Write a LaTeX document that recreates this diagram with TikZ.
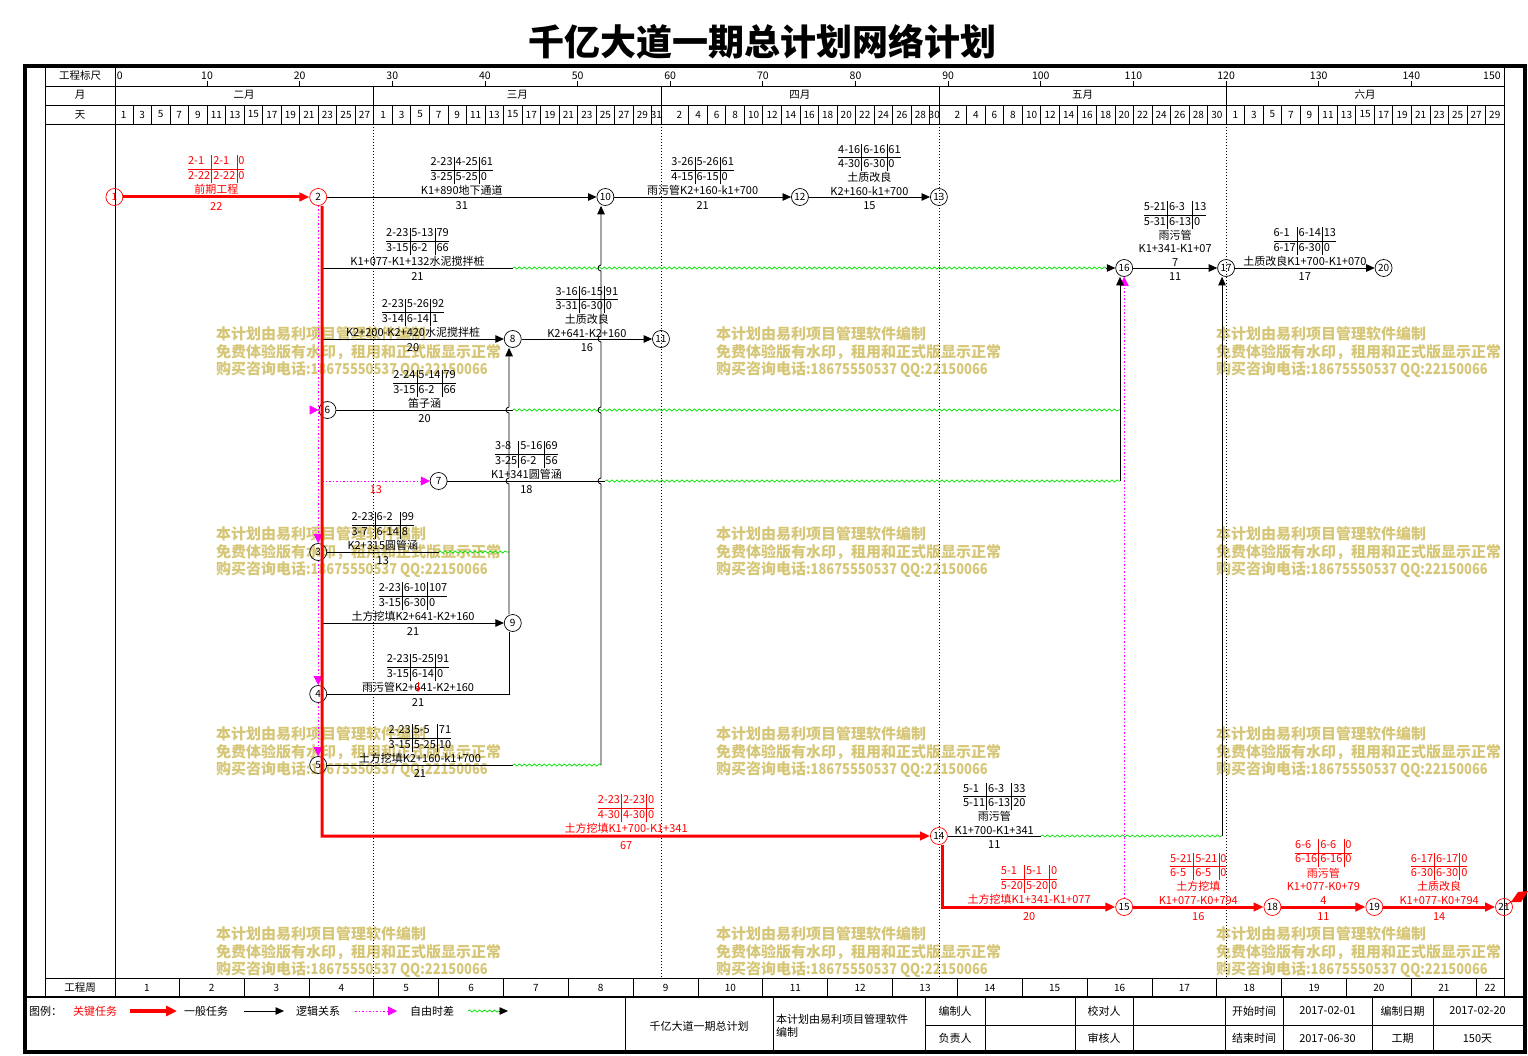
\documentclass[tikz,border=0pt]{standalone}
\usepackage{fontspec}
\setmainfont{Noto Sans CJK SC}
\newfontfamily\wmnum[FakeStretch=0.86]{Noto Sans CJK SC}
\usetikzlibrary{arrows.meta,decorations.pathmorphing}
\definecolor{critred}{RGB}{255,0,0}
\definecolor{logicmag}{RGB}{255,0,255}
\definecolor{slackgreen}{RGB}{0,225,0}
\definecolor{wmark}{RGB}{214,198,120}
\setlength\arrayrulewidth{0.7pt}
% time table above a work arrow
\newcommand\wtab[6]{{\setlength\tabcolsep{1.5pt}\begin{tabular}{@{}l|l|l@{}}#1&#2&#3\\\hline #4&#5&#6\end{tabular}}}

\begin{document}
\begin{tikzpicture}[x=1pt,y=-1pt,
  ev/.style={circle,draw,line width=0.7pt,minimum size=17pt,inner sep=0pt,font=\fontsize{10}{10}\selectfont},
  evc/.style={ev,draw=critred},
  work/.style={line width=0.8pt,-{Triangle[length=8.5pt,width=7.5pt]}},
  link/.style={line width=0.8pt},
  crit/.style={critred,line width=3pt,-{Triangle[length=10pt,width=8.5pt]}},
  logic/.style={logicmag,line width=0.8pt,dash pattern=on 1.5pt off 2pt,-{Triangle[length=9pt,width=9pt]}},
  slack/.style={slackgreen,line width=0.7pt,decorate,decoration={snake,amplitude=1.1pt,segment length=5pt}},
  lbl/.style={font=\fontsize{11}{13.5}\selectfont,align=center,inner sep=1.2pt},
  hdr/.style={font=\fontsize{10.5}{12}\selectfont,inner sep=0pt},
  dnum/.style={font=\fontsize{10}{12}\selectfont,inner sep=0pt},
  grid/.style={dash pattern=on 1pt off 2pt,line width=0.6pt},
  wm/.style={wmark,font=\fontsize{15}{18}\selectfont\bfseries,anchor=west,inner sep=0pt},
  ftr/.style={font=\fontsize{11}{13}\selectfont,inner sep=0pt},
]
\useasboundingbox (0,0) rectangle (1528,1056);

\node[font=\fontsize{36}{40}\selectfont\bfseries] (title) at (762,42) {千亿大道一期总计划网络计划};

% watermark
\foreach \wx in {216,716,1216}
  \foreach \wy in {334,534,734,934} {
    \node[wm] (wma\wx\wy) at (\wx,\wy) {本计划由易利项目管理软件编制};
    \node[wm] (wmb\wx\wy) at (\wx,\wy+18) {免费体验版有水印，租用和正式版显示正常};
    \node[wm] (wmc\wx\wy) at (\wx,\wy+36) {购买咨询电话{\wmnum :18675550537 QQ:22150066}};
  }

% frame and header rows
\draw[line width=4pt] (24.5,66) rectangle (1524.5,1052);
\draw[line width=0.8pt] (45,66) -- (45,997);
\draw[line width=0.8pt] (115,66) -- (115,997);
\draw[line width=0.8pt] (1504,66) -- (1504,997);
\foreach \ry in {86,105,124,978}
  \draw[line width=0.8pt] (45,\ry) -- (1504,\ry);
\draw[line width=2.5pt] (24.5,997) -- (1524.5,997);
\node[hdr] (hruler) at (80,76) {工程标尺};
\node[hdr] (hmonth) at (80,95) {月};
\node[hdr] (hday) at (80,114.5) {天};
\node[hdr] (hweek) at (80,987.5) {工程周};

\begin{scope}[shift={(114.4,0)},x=9.264pt]
  % ruler
  \node[hdr,anchor=west] (rl0) at (0.25,76) {0};
  \foreach \tk in {10,20,...,140} {
    \draw[line width=0.8pt] (\tk,81) -- (\tk,86);
    \node[hdr] (rl\tk) at (\tk,76) {\tk};
  }
  \node[hdr] (rl150) at (148.7,76) {150};
  % months
  \foreach \mo in {28,59,89,120} {
    \draw[line width=0.8pt] (\mo,86) -- (\mo,124);
    \draw[grid] (\mo,124) -- (\mo,978);
  }
  \node[hdr] (mFeb) at (14,95) {二月};
  \node[hdr] (mMar) at (43.5,95) {三月};
  \node[hdr] (mApr) at (74,95) {四月};
  \node[hdr] (mMay) at (104.5,95) {五月};
  \node[hdr] (mJun) at (135,95) {六月};
  % days
  \foreach \c in {2,4,...,148} {
    \ifnum\c=60 \else\ifnum\c=90 \else \draw[line width=0.8pt] (\c,105) -- (\c,124);\fi\fi
  }
  \foreach \dy in {1,3,...,27} \node[dnum] (dF\dy) at (\dy,114.5) {\dy};
  \foreach \dy in {1,3,...,29} \node[dnum] (dM\dy) at (28+\dy,114.5) {\dy};
  \node[dnum] (dM31) at (58.5,114.5) {31};
  \foreach \dy in {2,4,...,28} \node[dnum] (dA\dy) at (59+\dy,114.5) {\dy};
  \node[dnum] (dA30) at (88.5,114.5) {30};
  \foreach \dy in {2,4,...,30} \node[dnum] (dY\dy) at (89+\dy,114.5) {\dy};
  \foreach \dy in {1,3,...,29} \node[dnum] (dJ\dy) at (120+\dy,114.5) {\dy};
  % weeks
  \foreach \w in {1,...,21} {
    \draw[line width=0.8pt] (7*\w,978) -- (7*\w,997);
    \node[dnum] (wk\w) at (7*\w-3.5,987.5) {\w};
  }
  \node[dnum] (wk22) at (148.5,987.5) {22};

  % events
  \node[evc,text=critred] (ev1) at (0,197) {1};
  \node[evc] (ev2) at (22,197) {2};
  \node[ev] (ev10) at (53,197) {10};
  \node[ev] (ev12) at (74,197) {12};
  \node[ev] (ev13) at (89,197) {13};
  \node[ev] (ev16) at (109,268) {16};
  \node[ev] (ev17) at (120,268) {17};
  \node[ev] (ev20) at (137,268) {20};
  \node[ev] (ev8) at (43,339) {8};
  \node[ev] (ev11) at (59,339) {11};
  \node[ev] (ev6) at (23,410) {6};
  \node[ev] (ev7) at (35,481) {7};
  \node[ev] (ev3) at (22,552) {3};
  \node[ev] (ev9) at (43,623) {9};
  \node[ev] (ev4) at (22,694) {4};
  \node[ev] (ev5) at (22,765) {5};
  \node[evc] (ev14) at (89,836) {14};
  \node[evc] (ev15) at (109,907) {15};
  \node[evc] (ev18) at (125,907) {18};
  \node[evc] (ev19) at (136,907) {19};
  \node[evc] (ev21) at (150,907) {21};

  \coordinate (r268) at (22.43,268);
  \coordinate (r339) at (22.43,339);
  \coordinate (r481) at (22.43,481);
  \coordinate (r623) at (22.43,623);
  \coordinate (r836) at (22.43,836);
  \coordinate (m410) at (21.1,410);
  \coordinate (w268) at (43,268);
  \coordinate (w410) at (43,410);
  \coordinate (w481) at (53,481);
  \coordinate (w552) at (35,552);
  \coordinate (w694) at (42.6,694);
  \coordinate (w765) at (43,765);
  \coordinate (w836) at (100,836);
  \coordinate (k552) at (42.6,552);
  \coordinate (k765) at (52.53,765);
  \coordinate (g410) at (108.55,410);
  \coordinate (g481) at (108.55,481);
  \coordinate (h836) at (119.56,836);

  % logic links
  \draw[logic] (ev2) -- (ev3);
  \draw[logic] (ev3) -- (ev4);
  \draw[logic] (ev4) -- (ev5);
  \draw[logic] (m410) -- (ev6);
  \draw[logic] (r481) -- node[lbl,below=3pt,text=critred] {13} (ev7);
  \draw[logic] (ev15) -- (ev16);

  % works
  \draw[work] (ev2) -- node[lbl,above] {\wtab{2-23}{4-25}{61}{3-25}{5-25}{0}\\K1+890地下通道} node[lbl,below=3pt] {31} (ev10);
  \draw[work] (ev10) -- node[lbl,above] {\wtab{3-26}{5-26}{61}{4-15}{6-15}{0}\\雨污管K2+160-k1+700} node[lbl,below=3pt] {21} (ev12);
  \draw[work] (ev12) -- node[lbl,above] {\wtab{4-16}{6-16}{61}{4-30}{6-30}{0}\\土质改良\\K2+160-k1+700} node[lbl,below=3pt] {15} (ev13);

  \draw[link] (r268) -- node[lbl,above] {\wtab{2-23}{5-13}{79}{3-15}{6-2}{66}\\K1+077-K1+132水泥搅拌桩} node[lbl,below=3pt] {21} (w268);
  \draw[slack] (w268) -- ([xshift=-9pt]ev16.west);
  \draw[work] ([xshift=-9pt]ev16.west) -- (ev16);

  \draw[work] (r339) -- node[lbl,above] {\wtab{2-23}{5-26}{92}{3-14}{6-14}{1}\\K2+200-K2+420水泥搅拌桩} node[lbl,below=3pt] {20} (ev8);
  \draw[work] (ev8) -- node[lbl,above] {\wtab{3-16}{6-15}{91}{3-31}{6-30}{0}\\土质改良\\K2+641-K2+160} node[lbl,below=3pt] {16} (ev11);

  \draw[link] (ev6) -- node[lbl,above] {\wtab{2-24}{5-14}{79}{3-15}{6-2}{66}\\笛子涵} node[lbl,below=3pt] {20} (w410);
  \draw[slack] (w410) -- (g410);

  \draw[link] (ev7) -- node[lbl,above] {\wtab{3-8}{5-16}{69}{3-25}{6-2}{56}\\K1+341圆管涵} node[lbl,below=3pt] {18} (w481);
  \draw[slack] (w481) -- (g481);
  \draw[work] (g481) -- (ev16.south -| g481);

  \draw[link] (ev3) -- node[lbl,above] {\wtab{2-23}{6-2}{99}{3-7}{6-14}{8}\\K2+315圆管涵} node[lbl,below=3pt] {13} (w552);
  \draw[slack] (w552) -- (k552);

  \draw[work] (r623) -- node[lbl,above] {\wtab{2-23}{6-10}{107}{3-15}{6-30}{0}\\土方挖填K2+641-K2+160} node[lbl,below=3pt] {21} (ev9);

  \draw[link] (ev4) -- node[lbl,above] {\wtab{2-23}{5-25}{91}{3-15}{6-14}{0}\\雨污管K2+641-K2+160} node[lbl,below=3pt] {21} (w694) -- (ev9.south -| w694);
  \draw[work] (ev9.north -| w694) -- (42.6,484) arc[start angle=270,end angle=90,radius=3pt]
    -- (42.6,413) arc[start angle=270,end angle=90,radius=3pt] -- (ev8.south -| w694);

  \draw[link] (ev5) -- node[lbl,above] {\wtab{2-23}{5-5}{71}{3-15}{5-25}{10}\\土方挖填K2+160-k1+700} node[lbl,below=3pt] {21} (w765);
  \draw[slack] (w765) -- (k765);
  \draw[work] (k765) -- (52.53,484) arc[start angle=270,end angle=90,radius=3pt]
    -- (52.53,413) arc[start angle=270,end angle=90,radius=3pt]
    -- (52.53,342) arc[start angle=270,end angle=90,radius=3pt]
    -- (52.53,271) arc[start angle=270,end angle=90,radius=3pt] -- (ev10.south -| k765);

  \draw[link] (ev14) -- node[lbl,above] {\wtab{5-1}{6-3}{33}{5-11}{6-13}{20}\\雨污管\\K1+700-K1+341} node[lbl,below=3pt] {11} (w836);
  \draw[slack] (w836) -- (h836);
  \draw[work] (h836) -- (ev17.south -| h836);

  \draw[work] (ev16) -- node[lbl,above] {\wtab{5-21}{6-3}{13}{5-31}{6-13}{0}\\雨污管\\K1+341-K1+07\\7} node[lbl,below=3pt] {11} (ev17);
  \draw[work] (ev17) -- node[lbl,above] {\wtab{6-1}{6-14}{13}{6-17}{6-30}{0}\\土质改良K1+700-K1+070} node[lbl,below=3pt] {17} (ev20);

  % critical path
  \draw[crit] (ev1) -- node[lbl,above,text=critred] {\wtab{2-1}{2-1}{0}{2-22}{2-22}{0}\\前期工程} node[lbl,below=3pt,text=critred] {22} (ev2);
  \draw[crit] ([xshift=4pt]ev2.south) -- (r836) -- node[lbl,above,text=critred] {\wtab{2-23}{2-23}{0}{4-30}{4-30}{0}\\土方挖填K1+700-K1+341} node[lbl,below=3pt,text=critred] {67} (ev14);
  \draw[crit] ([xshift=4pt]ev14.south) |- node[pos=0.75,lbl,above,text=critred] {\wtab{5-1}{5-1}{0}{5-20}{5-20}{0}\\土方挖填K1+341-K1+077} node[pos=0.75,lbl,below=3pt,text=critred] {20} (ev15);
  \draw[crit] (ev15) -- node[lbl,above,text=critred] {\wtab{5-21}{5-21}{0}{6-5}{6-5}{0}\\土方挖填\\K1+077-K0+794} node[lbl,below=3pt,text=critred] {16} (ev18);
  \draw[crit] (ev18) -- node[lbl,above,text=critred] {\wtab{6-6}{6-6}{0}{6-16}{6-16}{0}\\雨污管\\K1+077-K0+79\\4} node[lbl,below=3pt,text=critred] {11} (ev19);
  \draw[crit] (ev19) -- node[lbl,above,text=critred] {\wtab{6-17}{6-17}{0}{6-30}{6-30}{0}\\土质改良\\K1+077-K0+794} node[lbl,below=3pt,text=critred] {14} (ev21);
\end{scope}

% small marks
\draw[critred,line width=0.7pt,-{Triangle[length=4pt,width=4pt]}] (418,682) -- (418,692);
\draw[critred,line width=0.7pt] (1505,906) -- (1512,901);
\fill[critred] (1511,902) -- (1518,892) -- (1528,891) -- (1521,902) -- cycle;

% legend
\node[ftr,anchor=west] (lgtitle) at (29,1011) {图例：};
\node[ftr,text=critred] (lgcrit) at (95,1011) {关键任务};
\coordinate (lca) at (130,1011);
\coordinate (lcb) at (177,1011);
\draw[crit,line width=3.5pt,-{Triangle[length=11pt,width=10pt]}] (lca) -- (lcb);
\node[ftr] (lgwork) at (206,1011) {一般任务};
\coordinate (lwa) at (244,1011);
\coordinate (lwb) at (284,1011);
\draw[work] (lwa) -- (lwb);
\node[ftr] (lglogic) at (318,1011) {逻辑关系};
\coordinate (lma) at (355,1011);
\coordinate (lmb) at (397,1011);
\draw[logic] (lma) -- (lmb);
\node[ftr] (lgslack) at (432,1011) {自由时差};
\coordinate (lsa) at (468,1011);
\coordinate (lsb) at (499,1011);
\coordinate (lsc) at (508,1011);
\draw[slack] (lsa) -- (lsb);
\draw[work] (lsb) -- (lsc);

% title block
\foreach \fx in {625,773,925,985,1075,1133,1225,1283,1372,1433}
  \draw[line width=0.8pt] (\fx,997) -- (\fx,1052);
\draw[line width=0.8pt] (925,1025) -- (1524,1025);
\node[ftr] (tbname) at (699,1026) {千亿大道一期总计划};
\node[ftr,anchor=west,align=left] (tbsoft) at (776,1026) {本计划由易利项目管理软件\\编制};
\node[ftr] (tbmaker) at (955,1011) {编制人};
\node[ftr] (tbowner) at (955,1038.5) {负责人};
\node[ftr] (tbcheck) at (1104,1011) {校对人};
\node[ftr] (tbaudit) at (1104,1038.5) {审核人};
\node[ftr] (tbstart) at (1254,1011) {开始时间};
\node[ftr] (tbend) at (1254,1038.5) {结束时间};
\node[ftr] (tbsdate) at (1327.5,1011) {2017-02-01};
\node[ftr] (tbedate) at (1327.5,1038.5) {2017-06-30};
\node[ftr] (tbmake) at (1402.5,1011) {编制日期};
\node[ftr] (tbdur) at (1402.5,1038.5) {工期};
\node[ftr] (tbmdate) at (1477.5,1011) {2017-02-20};
\node[ftr] (tbdays) at (1477.5,1038.5) {150天};
\end{tikzpicture}
\end{document}
